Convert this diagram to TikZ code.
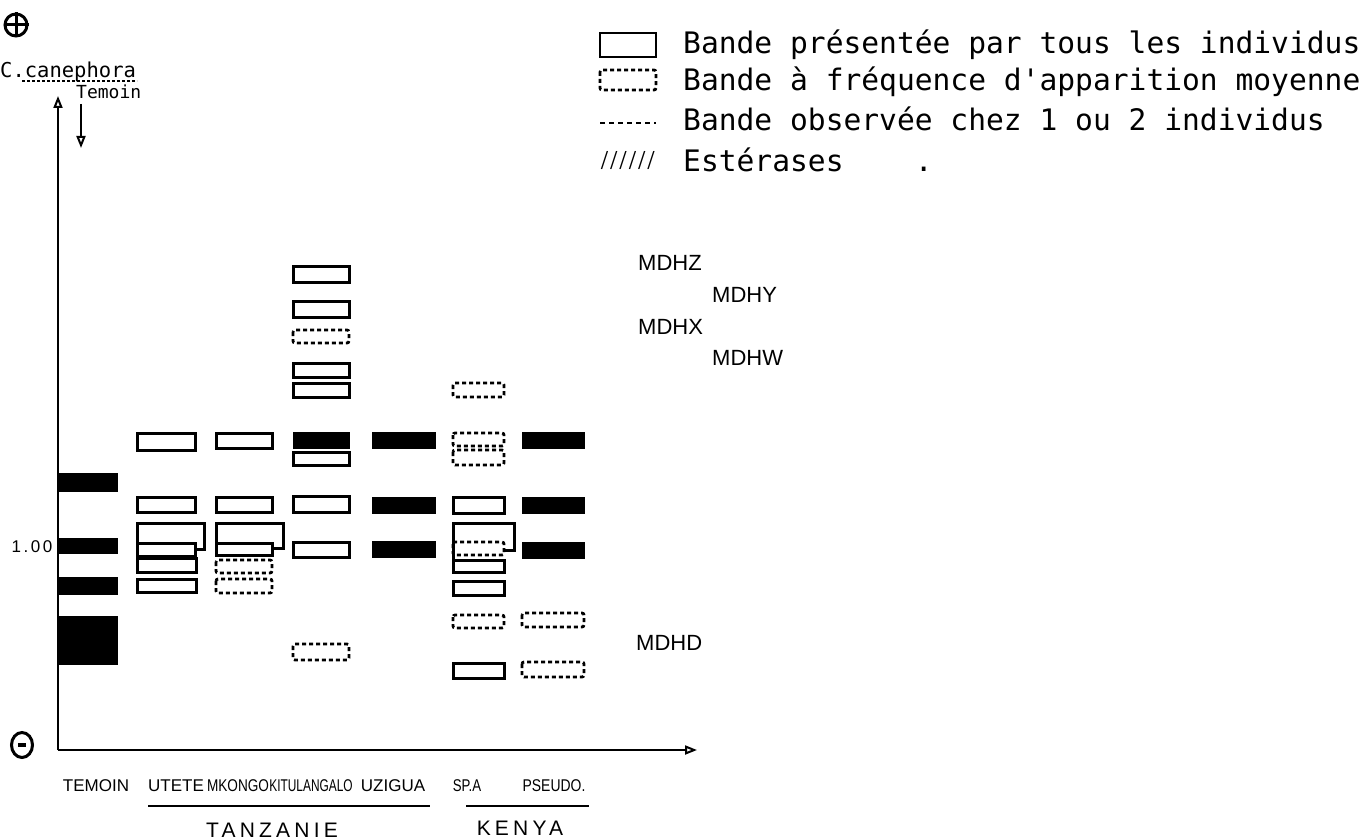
\documentclass[tikz,border=0pt]{standalone}
\usepackage{fontspec}
\usepackage{graphicx}
\setmainfont{Liberation Sans}
\newfontfamily\monof{DejaVu Sans Mono}
\usetikzlibrary{arrows.meta,shapes.geometric}
\begin{document}
\begin{tikzpicture}[x=1pt,y=-1pt,
 sbox/.style={draw=black,line width=3pt,fill=white},
 dbox/.style={draw=black,line width=2.8pt,dash pattern=on 4pt off 3pt,rounded corners=2pt},
 fbar/.style={fill=black,draw=black,line width=0.8pt},
 brk/.style={draw=black,line width=3pt},
 legtext/.style={font=\monof\fontsize{29.6}{30}\selectfont,anchor=west,inner sep=0pt},
 mdh/.style={font=\fontsize{22}{22}\selectfont,anchor=west,inner sep=0pt},
 coll/.style={font=\fontsize{17}{17}\selectfont,inner sep=0pt},
 country/.style={font=\fontsize{21}{21}\selectfont\addfontfeature{LetterSpace=20},inner sep=0pt},
 axis/.style={line width=2pt},
 tip/.style={-{Triangle[open,length=12pt,width=9pt,line width=2pt]}},
]
\useasboundingbox (0,0) rectangle (1362,840);

% ---------- legend ----------
\draw[line width=2.6pt] (600,33) rectangle (656,57);
\draw[dbox] (600,70) rectangle (656,90);
\draw[line width=2pt,dash pattern=on 5pt off 4pt] (600,123) -- (656,123);
\node[legtext] (l1) at (683,45) {Bande présentée par tous les individus};
\node[legtext] (l2) at (683,82) {Bande à fréquence d'apparition moyenne};
\node[legtext] (l3) at (683,119) {Bande observée chez 1 ou 2 individus};
\node[legtext,font=\monof\fontsize{22}{22}\selectfont] (l4h) at (600,161) {\scalebox{0.7}[1]{//////}};
\node[legtext] (l4) at (683,160) {Estérases~~~~.};

% ---------- MDH labels ----------
\node[mdh] (mz) at (638,263) {MDHZ};
\node[mdh] (my) at (712,295) {MDHY};
\node[mdh] (mx) at (638,327) {MDHX};
\node[mdh] (mw) at (712,358) {MDHW};
\node[mdh] (md) at (636,643) {MDHD};

% ---------- poles ----------
\node[circle,draw,line width=3pt,minimum size=22pt,inner sep=0pt] (plus) at (16,25) {};
\draw[line width=3pt] (plus.north) -- (plus.south) (plus.west) -- (plus.east);
\node[ellipse,draw,line width=3pt,minimum width=21pt,minimum height=25pt,inner sep=0pt] (minus) at (22,745) {};
\draw[line width=3.5pt] ([xshift=-4pt]minus.center) -- ([xshift=4pt]minus.center);

% ---------- axes ----------
\coordinate (O) at (58,750);
\coordinate (ytip) at (58,96);
\coordinate (xtip) at (697,750);
\draw[axis,tip] (O) -- (ytip);
\draw[axis,tip] (O) -- (xtip);
\coordinate (ta) at (81,104);
\coordinate (tb) at (81,148);
\draw[line width=1.6pt,tip] (ta) -- (tb);

\node[font=\monof\fontsize{20.5}{21}\selectfont,anchor=west,inner sep=0pt] (cane) at (0,72) {C.canephora};
\draw[line width=1.8pt,dash pattern=on 3pt off 2pt] (22,81) -- (137,81);
\node[font=\monof\fontsize{18}{18}\selectfont,anchor=west,inner sep=0pt] (tem) at (76,92) {Temoin};

\node[font=\fontsize{17}{17}\selectfont\addfontfeature{LetterSpace=15},inner sep=0pt] (one) at (32,547) {1.00};

% ---------- Temoin ----------
\fill[fbar] (58,473) rectangle (117,491);
\fill[fbar] (58,538) rectangle (117,553);
\fill[fbar] (58,577) rectangle (117,594);
\fill[fbar] (58,616) rectangle (117,664);

% ---------- UTETE ----------
\draw[sbox] (137,433) rectangle (195,450);
\draw[sbox] (137,497) rectangle (195,512);
\draw[brk] (137,543) -- (137,523) -- (204,523) -- (204,549) -- (195,549);
\draw[sbox] (137,543) rectangle (195,556);
\draw[sbox] (137,558) rectangle (196,572);
\draw[sbox] (137,579) rectangle (196,592);

% ---------- MKONGO ----------
\draw[sbox] (216,433) rectangle (272,448);
\draw[sbox] (216,497) rectangle (272,512);
\draw[brk] (216,543) -- (216,523) -- (283,523) -- (283,548) -- (272,548);
\draw[sbox] (216,543) rectangle (272,555);
\draw[dbox] (216,560) rectangle (272,573);
\draw[dbox] (216,579) rectangle (272,593);

% ---------- KITULANGALO ----------
\draw[sbox] (293,266) rectangle (349,282);
\draw[sbox] (293,301) rectangle (349,317);
\draw[dbox] (293,330) rectangle (349,343);
\draw[sbox] (293,363) rectangle (349,377);
\draw[sbox] (293,383) rectangle (349,397);
\fill[fbar] (293,432) rectangle (349,448);
\draw[sbox] (293,452) rectangle (349,465);
\draw[sbox] (293,496) rectangle (349,512);
\draw[sbox] (293,542) rectangle (349,557);
\draw[dbox] (293,644) rectangle (349,660);

% ---------- UZIGUA ----------
\fill[fbar] (372,432) rectangle (435,448);
\fill[fbar] (372,497) rectangle (435,513);
\fill[fbar] (372,541) rectangle (435,557);

% ---------- SP. A ----------
\draw[dbox] (453,383) rectangle (504,397);
\draw[dbox] (453,433) rectangle (504,446);
\draw[dbox] (453,450) rectangle (504,465);
\draw[sbox] (453,497) rectangle (504,513);
\draw[brk] (453,560) -- (453,523) -- (514,523) -- (514,550) -- (504,550);
\draw[dbox] (453,542) rectangle (504,555);
\draw[sbox] (453,560) rectangle (504,572);
\draw[sbox] (453,581) rectangle (504,595);
\draw[dbox] (453,615) rectangle (504,628);
\draw[sbox] (453,663) rectangle (504,678);

% ---------- PSEUDO ----------
\fill[fbar] (522,432) rectangle (584,448);
\fill[fbar] (522,497) rectangle (584,513);
\fill[fbar] (522,542) rectangle (584,558);
\draw[dbox] (522,613) rectangle (584,627);
\draw[dbox] (522,662) rectangle (584,677);

% ---------- column labels ----------
\node[coll] (c1) at (96,786) {TEMOIN};
\node[coll] (c2) at (176,786) {UTETE};
\node[coll] (c3) at (238,786) {\scalebox{0.8}[1]{MKONGO}};
\node[coll] (c4) at (311,786) {\scalebox{0.7}[1]{KITULANGALO}};
\node[coll] (c5) at (393,786) {UZIGUA};
\node[coll] (c6) at (467,786) {\scalebox{0.78}[1]{SP.A}};
\node[coll] (c7) at (554,786) {\scalebox{0.82}[1]{PSEUDO.}};
\draw[line width=2.4pt] (148,806) -- (430,806);
\draw[line width=2.4pt] (466,806) -- (589,806);
\node[country] (tz) at (272,830) {TANZANIE};
\node[country] (ke) at (520,828) {KENYA};
\end{tikzpicture}
\end{document}
